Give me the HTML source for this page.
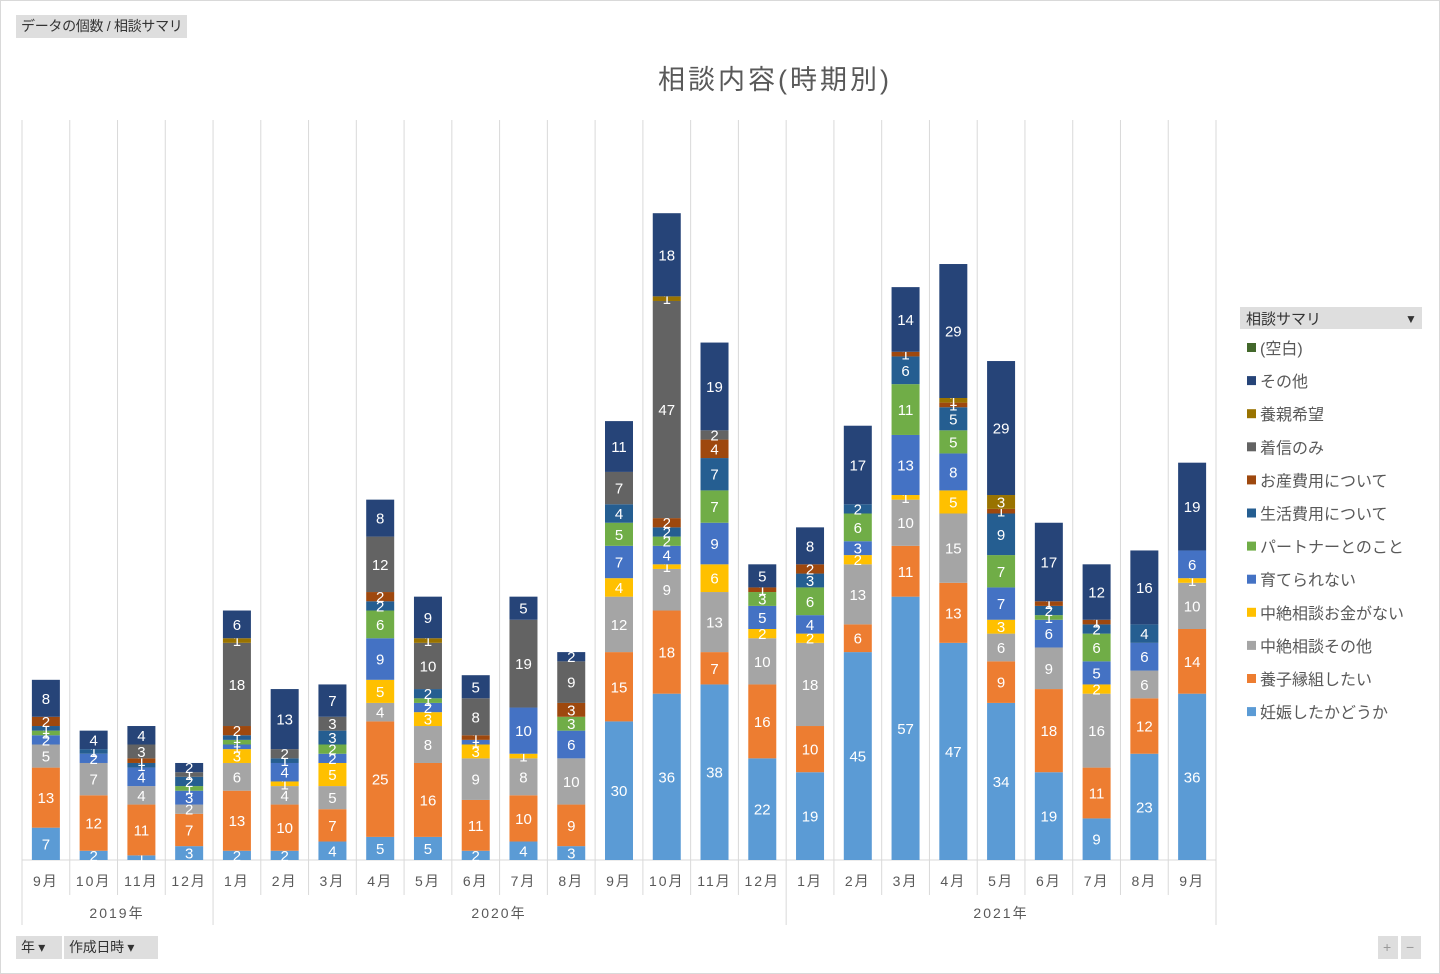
<!DOCTYPE html>
<html><head><meta charset="utf-8"><style>
body{margin:0;background:#fff;font-family:"Liberation Sans","Noto Sans CJK JP",sans-serif;}
.wrap{position:relative;width:1438px;height:972px;border:1px solid #d9d9d9;overflow:hidden}
.btn{position:absolute;background:#dedede;color:#333;font-size:14px;line-height:23px;padding:0 5px;white-space:nowrap;letter-spacing:-0.3px}
</style></head><body><div class="wrap">
<div class="btn" style="left:15px;top:14px;width:161px;height:23px">データの個数 / 相談サマリ</div>
<div class="btn" style="left:15px;top:935px;width:36px;height:23px">年 ▾</div>
<div class="btn" style="left:63px;top:935px;width:84px;height:23px">作成日時 ▾</div>
<div class="btn" style="left:1377px;top:935px;width:10px;height:23px;color:#999">+</div>
<div class="btn" style="left:1400px;top:935px;width:10px;height:23px;color:#999">−</div>
<svg id="s" width="1440" height="974" style="position:absolute;left:-1px;top:-1px" font-family="Liberation Sans, Noto Sans CJK JP, sans-serif"></svg>
</div>
<script>
const C=["#5b9bd5","#ed7d31","#a5a5a5","#ffc000","#4472c4","#70ad47","#255e91","#9e480e","#636363","#997300","#264478","#43682b"];
const D=[[7,13,5,0,2,1,1,2,0,0,8],[2,12,7,0,2,0,1,0,0,0,4],[1,11,4,0,4,0,1,1,3,0,4],[3,7,2,0,3,1,2,0,1,0,2],
[2,13,6,3,1,1,1,2,18,1,6],[2,10,4,1,4,0,1,0,2,0,13],[4,7,5,5,2,2,3,0,3,0,7],[5,25,4,5,9,6,2,2,12,0,8],
[5,16,8,3,2,1,2,0,10,1,9],[2,11,9,3,1,0,0,1,8,0,5],[4,10,8,1,10,0,0,0,19,0,5],[3,9,10,0,6,3,0,3,9,0,2],
[30,15,12,4,7,5,4,0,7,0,11],[36,18,9,1,4,2,2,2,47,1,18],[38,7,13,6,9,7,7,4,2,0,19],[22,16,10,2,5,3,0,1,0,0,5],
[19,10,18,2,4,6,3,2,0,0,8],[45,6,13,2,3,6,2,0,0,0,17],[57,11,10,1,13,11,6,1,0,0,14],[47,13,15,5,8,5,5,1,0,1,29],
[34,9,6,3,7,7,9,1,0,3,29],[19,18,9,0,6,1,2,1,0,0,17],[9,11,16,2,5,6,2,1,0,0,12],[23,12,6,0,6,0,4,0,0,0,16],[36,14,10,1,6,0,0,0,0,0,19]];
const M=["9月","10月","11月","12月","1月","2月","3月","4月","5月","6月","7月","8月","9月","10月","11月","12月","1月","2月","3月","4月","5月","6月","7月","8月","9月"];
let h='';const x0=22,st=47.76,base=860,k=4.62;
h+=`<text x="775" y="89" font-size="27" text-anchor="middle" fill="#595959" letter-spacing="3">相談内容(時期別)</text>`;
for(let i=0;i<=25;i++){const x=x0+i*st;const sep=(i==0||i==4||i==16||i==25);h+=`<line x1="${x}" y1="120" x2="${x}" y2="${sep?925:895}" stroke="#d9d9d9"/>`;}
h+=`<line x1="${x0}" y1="${base}" x2="${x0+25*st}" y2="${base}" stroke="#d9d9d9"/>`;
D.forEach((d,i)=>{const cx=x0+st*(i+.5);let y=base;h+=`<text x="${cx}" y="886" font-size="14" text-anchor="middle" fill="#595959" letter-spacing="2">${M[i]}</text>`;
d.forEach((v,j)=>{if(!v)return;const hh=v*k;y-=hh;h+=`<rect x="${cx-14}" y="${y}" width="28" height="${hh}" fill="${C[j]}"/>`;
h+=`<text x="${cx}" y="${y+hh/2+5.5}" font-size="15" text-anchor="middle" fill="#fff">${v}</text>`;});});
[["2019年",117],["2020年",499],["2021年",1001]].forEach(a=>h+=`<text x="${a[1]}" y="918" font-size="14" text-anchor="middle" fill="#595959" letter-spacing="2">${a[0]}</text>`);
h+=`<rect x="1240" y="307" width="182" height="22" fill="#dedede"/><text x="1246" y="324" font-size="15" fill="#333">相談サマリ</text><text x="1405" y="323" font-size="12" fill="#333">▼</text>`;
const L=["(空白)","その他","養親希望","着信のみ","お産費用について","生活費用について","パートナーとのこと","育てられない","中絶相談お金がない","中絶相談その他","養子縁組したい","妊娠したかどうか"];
L.forEach((t,i)=>{const y=348+i*33.1;h+=`<rect x="1247" y="${y-5}" width="9" height="9" fill="${C[11-i]}"/><text x="1260" y="${y+6}" font-size="16" fill="#595959">${t}</text>`;});
document.getElementById('s').innerHTML=h;
</script></body></html>
